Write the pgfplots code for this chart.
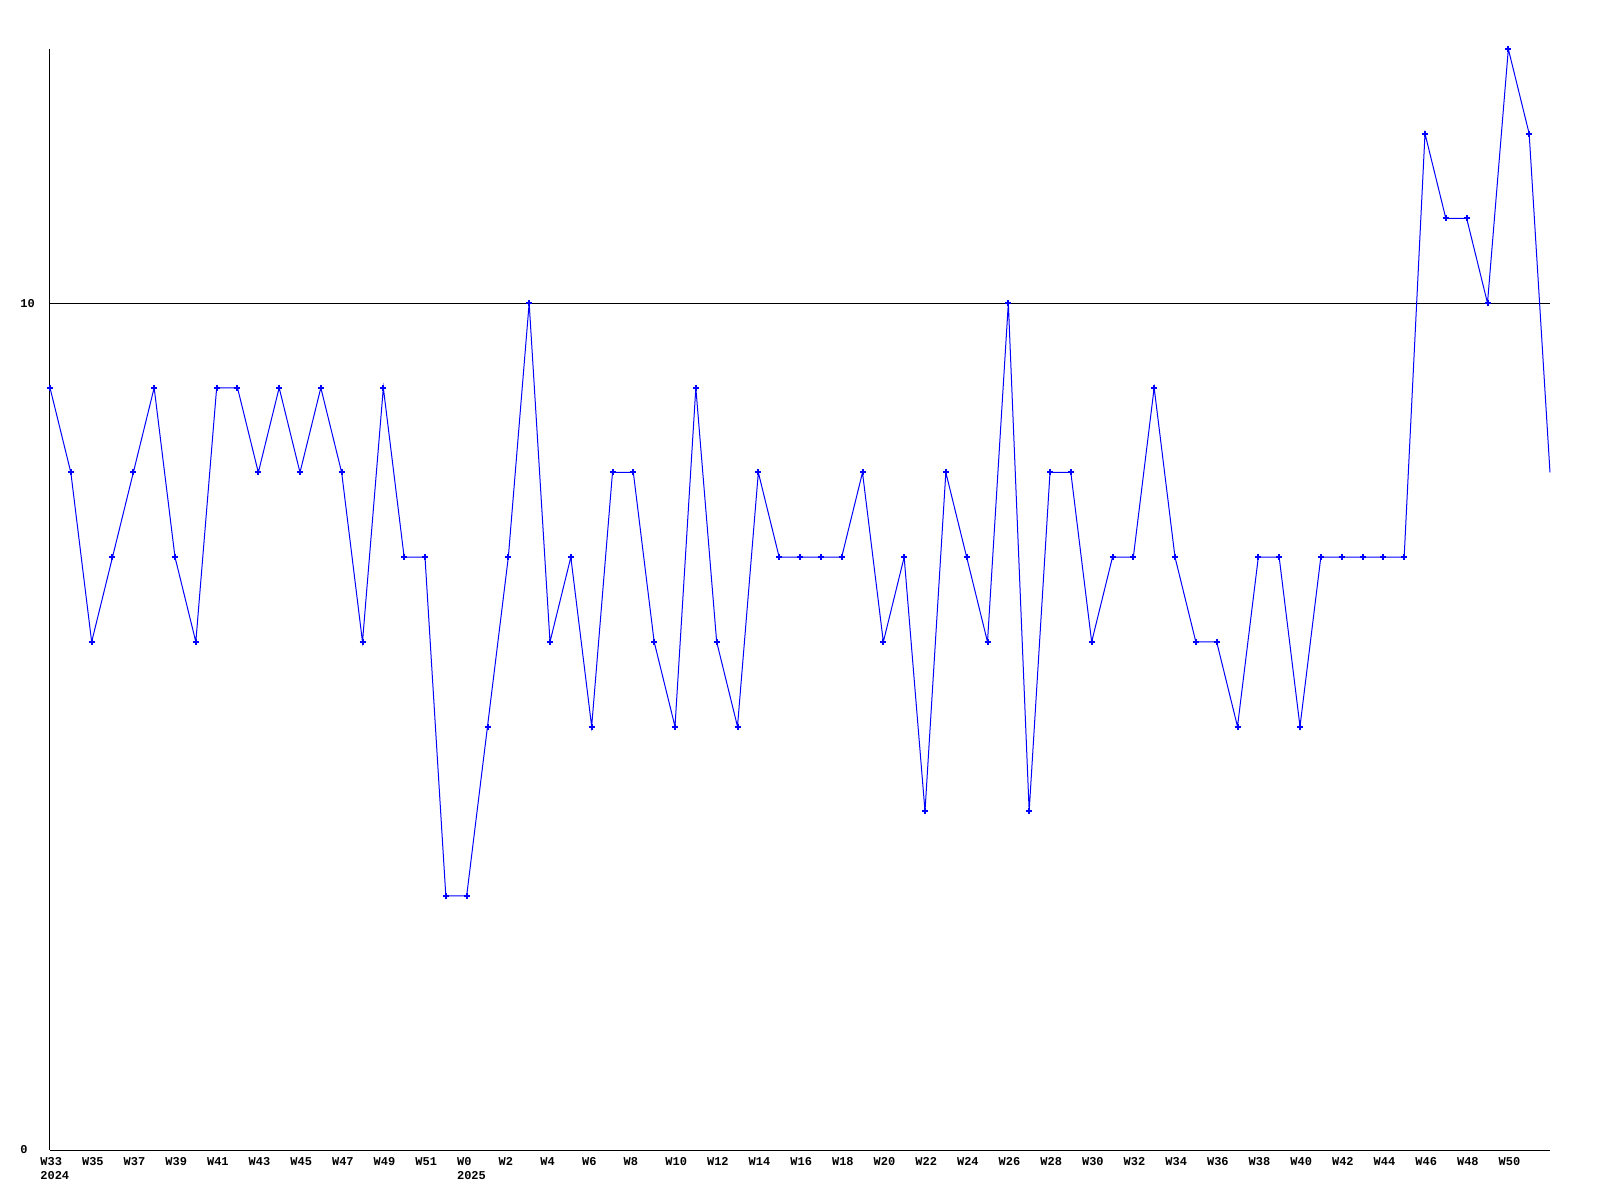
\documentclass[border=0pt]{standalone}
\usepackage{pgfplots}
\pgfplotsset{compat=1.18}
\usepackage{fontspec}
\newfontfamily\chartfont{Liberation Mono}
\begin{document}
\begin{tikzpicture}
\useasboundingbox (-25pt,-25pt) rectangle (775pt,575pt);
\begin{axis}[
  at={(0,0)}, anchor=origin,
  scale only axis, width=750pt, height=550.5pt,
  xmin=0, xmax=72, ymin=0, ymax=13,
  axis x line=bottom, axis y line=left,
  axis line style={-, line width=0.5pt, black},
  xtick={0,2,...,70},
  xticklabels={{W33\\2024},W35,W37,W39,W41,W43,W45,W47,W49,W51,{W0\\2025},W2,W4,W6,W8,W10,W12,W14,W16,W18,W20,W22,W24,W26,W28,W30,W32,W34,W36,W38,W40,W42,W44,W46,W48,W50},
  ytick={0,10},
  major tick length=0pt,
  ymajorgrids, grid style={black, line width=0.5pt},
  xticklabel style={anchor=north west, xshift=-5pt, yshift=-3.5pt, inner sep=0pt, align=left, font=\chartfont\bfseries\fontsize{6}{7}\selectfont},
  yticklabel style={anchor=west, xshift=-15pt, inner sep=0pt, font=\chartfont\bfseries\fontsize{6}{7}\selectfont},
  /pgf/number format/assume math mode=true,
  clip=false,
]
\addplot[blue, line width=0.5pt, mark=+, mark size=1.5pt, mark options={line width=1pt}, mark indices={1,...,72}] coordinates {
(0,9)(1,8)(2,6)(3,7)(4,8)(5,9)(6,7)(7,6)(8,9)(9,9)
(10,8)(11,9)(12,8)(13,9)(14,8)(15,6)(16,9)(17,7)(18,7)(19,3)
(20,3)(21,5)(22,7)(23,10)(24,6)(25,7)(26,5)(27,8)(28,8)(29,6)
(30,5)(31,9)(32,6)(33,5)(34,8)(35,7)(36,7)(37,7)(38,7)(39,8)
(40,6)(41,7)(42,4)(43,8)(44,7)(45,6)(46,10)(47,4)(48,8)(49,8)
(50,6)(51,7)(52,7)(53,9)(54,7)(55,6)(56,6)(57,5)(58,7)(59,7)
(60,5)(61,7)(62,7)(63,7)(64,7)(65,7)(66,12)(67,11)(68,11)(69,10)
(70,13)(71,12)(72,8)
};
\end{axis}
\end{tikzpicture}
\end{document}
